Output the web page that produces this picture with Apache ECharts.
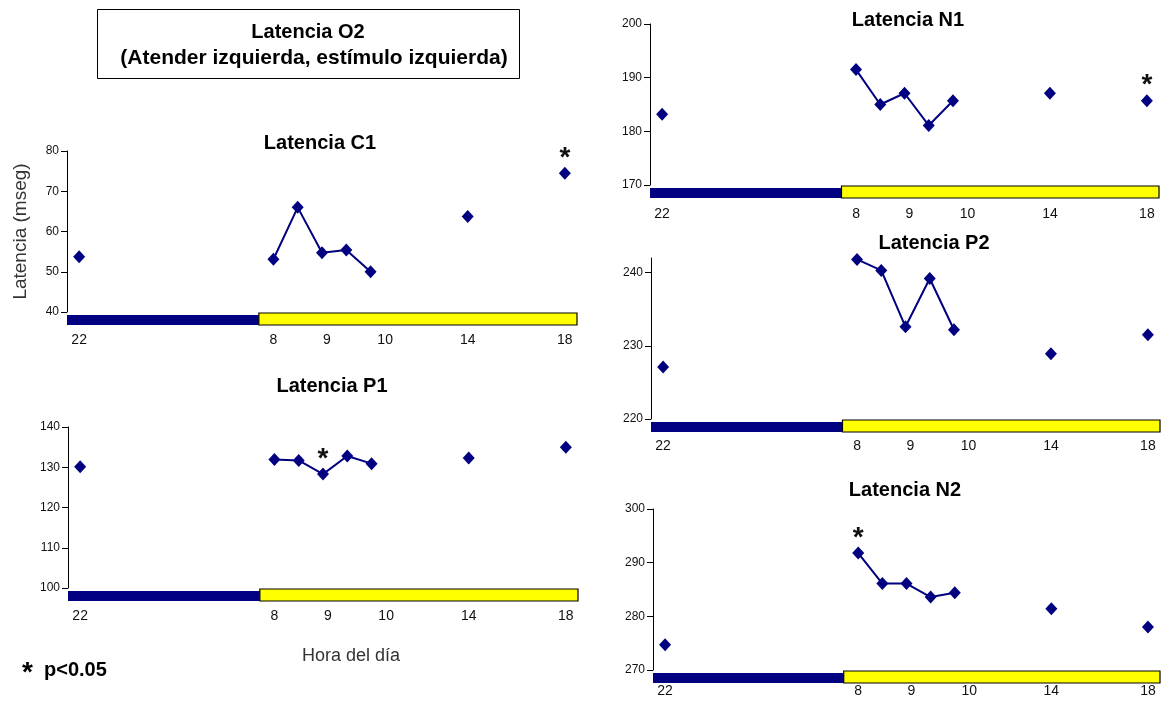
<!DOCTYPE html>
<html>
<head>
<meta charset="utf-8">
<script src="https://cdn.jsdelivr.net/npm/echarts@6/dist/echarts.min.js"></script>
<style>
  html, body { margin: 0; padding: 0; background: #fff; }
  #chart { width: 1161px; height: 704px; }
</style>
</head>
<body>
<div id="chart"></div>
<script>
// Sampling times and the slot each one occupies on the time axis
const sampleHours = ['22:00', '8:00', '8:30', '9:00', '9:30', '10:00', '14:00', '18:00'];
const sampleSlots = [0, 8, 9, 10, 11, 12, 16, 20];
// The morning run (8:00 - 10:00) is joined by a line
const morningIdx = [1, 2, 3, 4, 5];
const isolatedIdx = [0, 6, 7];

// Hour labels under the time axis
const tickLabels = ['22', '8', '9', '10', '14', '18'];
const tickSlots = [0, 8, 10.2, 12.6, 16, 20];

// Night (dark) and day (light) bands along the time axis
const nightBand = [-0.5, 7.4];
const dayBand = [7.4, 20.5];

// Latencies (ms)
const latC1 = [53.7, 53.1, 66.0, 54.7, 55.4, 50.0, 63.7, 74.5];
const latP1 = [130.1, 131.9, 131.7, 128.3, 132.8, 130.9, 132.3, 135.0];
const latN1 = [183.2, 191.5, 185.0, 187.1, 181.1, 185.7, 187.1, 185.7];
const latP2 = [227.1, 241.8, 240.3, 232.6, 239.2, 232.2, 228.9, 231.5];
const latN2 = [274.7, 291.8, 286.1, 286.1, 283.6, 284.4, 281.4, 278.0];

// Samples with p<0.05
const sigC1 = [7];
const sigP1 = [3];
const sigN1 = [7];
const sigP2 = [];
const sigN2 = [1];

// Value-axis ticks
const yTicksC1 = [40, 50, 60, 70, 80];
const yTicksP1 = [100, 110, 120, 130, 140];
const yTicksN1 = [170, 180, 190, 200];
const yTicksP2 = [220, 230, 240];
const yTicksN2 = [270, 280, 290, 300];

const NAVY = '#000080';
const FONT = '"Liberation Sans", Arial, sans-serif';

const panels = [
  { title: 'Latencia C1', values: latC1, sig: sigC1, ticks: yTicksC1, min: 40, max: 80,
    grid: { left: 67, top: 151, width: 510, height: 161 }, titlePos: [320, 143], labelMargin: 21,
    yName: 'Latencia (mseg)' },
  { title: 'Latencia P1', values: latP1, sig: sigP1, ticks: yTicksP1, min: 100, max: 140,
    grid: { left: 68, top: 427, width: 510, height: 161 }, titlePos: [332, 386], labelMargin: 21 },
  { title: 'Latencia N1', values: latN1, sig: sigN1, ticks: yTicksN1, min: 170, max: 200,
    grid: { left: 650, top: 24, width: 509, height: 161 }, titlePos: [908, 20], labelMargin: 22 },
  { title: 'Latencia P2', values: latP2, sig: sigP2, ticks: yTicksP2, min: 220, max: 242,
    grid: { left: 651, top: 258, width: 509, height: 161 }, titlePos: [934, 243], labelMargin: 20 },
  { title: 'Latencia N2', values: latN2, sig: sigN2, ticks: yTicksN2, min: 270, max: 300,
    grid: { left: 653, top: 509, width: 507, height: 161 }, titlePos: [905, 490], labelMargin: 14 }
];

function slotLabel(v) {
  for (let i = 0; i < tickSlots.length; i++) {
    if (Math.abs(tickSlots[i] - v) < 1e-6) return tickLabels[i];
  }
  return '';
}

function pointItem(p, i) {
  const item = { value: [sampleSlots[i], p.values[i]], name: sampleHours[i] };
  if (p.sig.indexOf(i) >= 0) {
    item.label = {
      show: true, formatter: '*', position: 'inside', offset: [0, -15],
      fontSize: 28, fontWeight: 'bold', color: '#111', fontFamily: FONT
    };
  }
  return item;
}

const grids = [], xAxes = [], yAxes = [], series = [], graphics = [];

panels.forEach((p, k) => {
  grids.push(Object.assign({ containLabel: false }, p.grid));

  xAxes.push({
    type: 'value', gridIndex: k, min: -0.5, max: 20.5,
    axisLine: { show: false, onZero: false }, axisTick: { show: false }, splitLine: { show: false },
    axisLabel: {
      customValues: tickSlots, formatter: slotLabel, margin: p.labelMargin,
      fontSize: 14, color: '#111', fontFamily: FONT
    }
  });

  const y = {
    type: 'value', gridIndex: k, min: p.min, max: p.max, interval: 10,
    axisLine: { show: true, onZero: false, lineStyle: { color: '#000', width: 1 } },
    axisTick: { show: true, customValues: p.ticks, length: 6, lineStyle: { color: '#000' } },
    axisLabel: { customValues: p.ticks, fontSize: 12, margin: 8, color: '#111', fontFamily: FONT },
    splitLine: { show: false }
  };
  if (p.yName) {
    Object.assign(y, {
      name: p.yName, nameLocation: 'middle', nameGap: 37, nameRotate: 90,
      nameTextStyle: { fontSize: 19, color: '#333', fontFamily: FONT }
    });
  }
  yAxes.push(y);

  // Night/day bands drawn just under the time axis
  const yMin = p.min;
  series.push({
    type: 'custom', xAxisIndex: k, yAxisIndex: k, silent: true, clip: false,
    data: [[nightBand[0], nightBand[1], 0], [dayBand[0], dayBand[1], 1]],
    encode: { x: [0, 1] },
    renderItem: function (params, api) {
      const a = api.coord([api.value(0), yMin]);
      const b = api.coord([api.value(1), yMin]);
      const isDay = api.value(2) === 1;
      return {
        type: 'rect',
        shape: isDay
          ? { x: a[0], y: a[1] + 1, width: b[0] - a[0], height: 12 }
          : { x: a[0], y: a[1] + 3, width: b[0] - a[0], height: 10 },
        style: isDay
          ? { fill: '#ffff00', stroke: '#000', lineWidth: 1.2 }
          : { fill: NAVY }
      };
    },
    z: 1
  });

  series.push({
    type: 'line', xAxisIndex: k, yAxisIndex: k,
    data: morningIdx.map(i => pointItem(p, i)),
    symbol: 'diamond', symbolSize: [12, 13], showAllSymbol: true,
    lineStyle: { color: NAVY, width: 2 }, itemStyle: { color: NAVY, opacity: 1 },
    z: 3
  });
  series.push({
    type: 'scatter', xAxisIndex: k, yAxisIndex: k,
    data: isolatedIdx.map(i => pointItem(p, i)),
    symbol: 'diamond', symbolSize: [12, 13], itemStyle: { color: NAVY, opacity: 1 },
    z: 3
  });

  graphics.push({
    type: 'text', x: p.titlePos[0], y: p.titlePos[1],
    style: { text: p.title, fill: '#000', font: 'bold 20px ' + FONT, textAlign: 'center', textVerticalAlign: 'middle' }
  });
});

// Boxed heading
graphics.push({
  type: 'rect', shape: { x: 97.5, y: 9.5, width: 422, height: 69 },
  style: { fill: '#fff', stroke: '#000', lineWidth: 1 }
});
graphics.push({
  type: 'text', x: 308, y: 32,
  style: { text: 'Latencia O2', fill: '#000', font: 'bold 20px ' + FONT, textAlign: 'center', textVerticalAlign: 'middle' }
});
graphics.push({
  type: 'text', x: 314, y: 58,
  style: { text: '(Atender izquierda, estímulo izquierda)', fill: '#000', font: 'bold 21px ' + FONT, textAlign: 'center', textVerticalAlign: 'middle' }
});
// Time-axis caption and significance key
graphics.push({
  type: 'text', x: 351, y: 656,
  style: { text: 'Hora del día', fill: '#333', font: '18px ' + FONT, textAlign: 'center', textVerticalAlign: 'middle' }
});
graphics.push({
  type: 'text', x: 22, y: 673,
  style: { text: '*', fill: '#000', font: 'bold 28px ' + FONT, textAlign: 'left', textVerticalAlign: 'middle' }
});
graphics.push({
  type: 'text', x: 44, y: 670,
  style: { text: 'p<0.05', fill: '#000', font: 'bold 20px ' + FONT, textAlign: 'left', textVerticalAlign: 'middle' }
});

const chart = echarts.init(document.getElementById('chart'), null, { renderer: 'canvas' });
chart.setOption({
  backgroundColor: '#fff',
  animation: false,
  grid: grids,
  xAxis: xAxes,
  yAxis: yAxes,
  series: series,
  graphic: graphics
});
</script>
</body>
</html>
